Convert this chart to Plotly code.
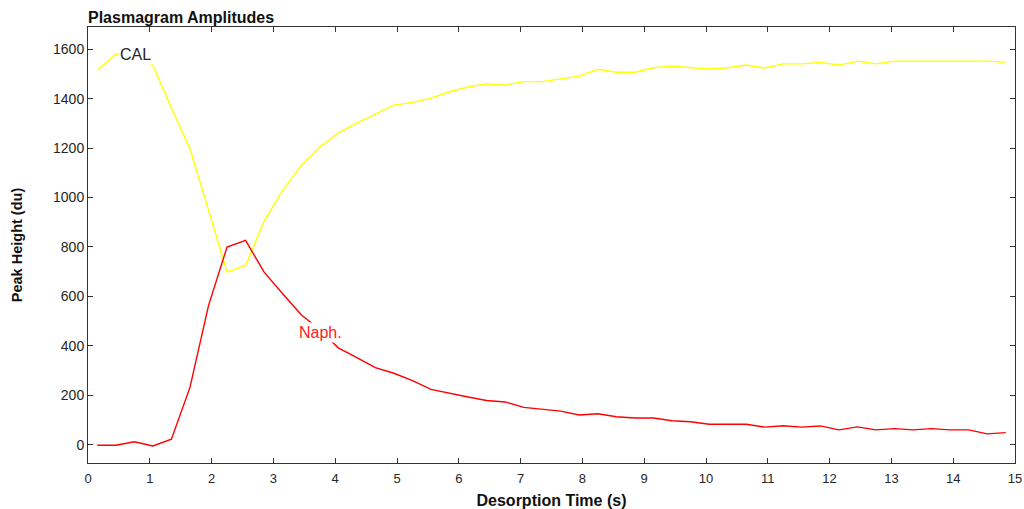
import plotly.graph_objects as go

# Desorption time (s)
time_s = [0.15, 0.45, 0.75, 1.05, 1.35, 1.65, 1.95, 2.25, 2.55, 2.85,
          3.15, 3.45, 3.75, 4.05, 4.35, 4.65, 4.95, 5.25, 5.55, 5.85,
          6.15, 6.45, 6.75, 7.05, 7.35, 7.65, 7.95, 8.25, 8.55, 8.85,
          9.15, 9.45, 9.75, 10.05, 10.35, 10.65, 10.95, 11.25, 11.55, 11.85,
          12.15, 12.45, 12.75, 13.05, 13.35, 13.65, 13.95, 14.25, 14.55, 14.85]

cal_height = [1515, 1580, 1580, 1535, 1362, 1197, 950, 698, 725, 905,
              1029, 1130, 1204, 1261, 1301, 1339, 1374, 1385, 1402, 1428,
              1447, 1460, 1455, 1469, 1469, 1480, 1491, 1519, 1507, 1507,
              1525, 1531, 1525, 1520, 1525, 1536, 1524, 1541, 1541, 1547,
              1536, 1552, 1541, 1552, 1552, 1552, 1552, 1552, 1552, 1547]

naph_height = [-2, -2, 12, -5, 22, 232, 563, 800, 827, 698,
               611, 526, 465, 392, 352, 312, 289, 259, 224, 207,
               193, 179, 173, 151, 145, 136, 120, 125, 113, 108,
               108, 97, 93, 83, 83, 83, 71, 77, 71, 76,
               60, 72, 60, 65, 60, 65, 60, 60, 44, 49]

labels = ["CAL", "Naph."]
label_pos = [(0.77, 1580), (3.77, 452)]
label_colors = ["#262626", "#ff2020"]

x_ticks = list(range(0, 16))
y_ticks = list(range(0, 1601, 200))

FONT = "Liberation Sans, Arial"

fig = go.Figure()
fig.add_trace(go.Scatter(x=time_s, y=cal_height, mode="lines",
                         line=dict(color="#ffff00", width=1.4), name="CAL"))
fig.add_trace(go.Scatter(x=time_s, y=naph_height, mode="lines",
                         line=dict(color="#ff0000", width=1.4), name="Naph."))

for txt, (lx, ly), col in zip(labels, label_pos, label_colors):
    fig.add_annotation(x=lx, y=ly, text=txt, showarrow=False,
                       font=dict(family=FONT, size=16, color=col),
                       bgcolor="white", borderpad=1)

axis_common = dict(showgrid=False, zeroline=False, showline=True, linecolor="#333333",
                   linewidth=1, mirror="ticks", ticks="inside", ticklen=5,
                   tickcolor="#333333", tickwidth=1, automargin=False)

fig.update_xaxes(range=[0, 15], tickvals=x_ticks, ticklabelstandoff=3,
                 tickfont=dict(family=FONT, size=13, color="#262626"),
                 title=dict(text="<b>Desorption Time (s)</b>", standoff=12,
                            font=dict(family=FONT, size=16, color="#111111")),
                 **axis_common)
fig.update_yaxes(range=[-74, 1690], tickvals=y_ticks,
                 tickfont=dict(family=FONT, size=14, color="#262626"),
                 title=dict(text="<b>Peak Height (du)</b>", standoff=26,
                            font=dict(family=FONT, size=14.5, color="#111111")),
                 **axis_common)

fig.update_layout(
    width=1024, height=509,
    margin=dict(l=88, r=9, t=27, b=46),
    paper_bgcolor="white", plot_bgcolor="white",
    showlegend=False,
    title=dict(text="<b>Plasmagram Amplitudes</b>", x=88 / 1024, xanchor="left",
               y=1 - 17 / 509, yanchor="middle",
               font=dict(family=FONT, size=16, color="#111111")),
)

fig.write_html("out.html")
